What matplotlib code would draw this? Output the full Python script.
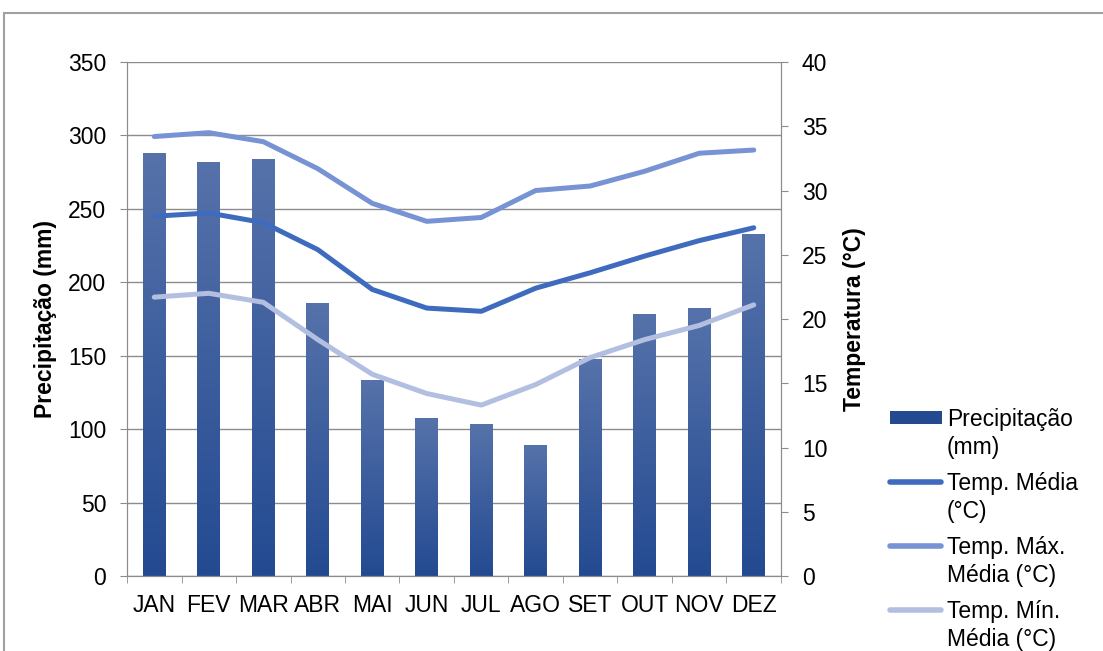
import numpy as np
import matplotlib
matplotlib.use("Agg")
import matplotlib.pyplot as plt
from matplotlib.patches import Rectangle
from matplotlib.lines import Line2D
from matplotlib.colors import LinearSegmentedColormap

plt.rcParams['font.family'] = ['Liberation Sans', 'DejaVu Sans']

meses = ["JAN", "FEV", "MAR", "ABR", "MAI", "JUN", "JUL", "AGO", "SET", "OUT", "NOV", "DEZ"]
precipitacao = [288, 282, 284, 186, 133.5, 107.5, 103.5, 89, 148, 178.5, 182.5, 233]
temp_media = [28.0, 28.25, 27.5, 25.4, 22.3, 20.85, 20.6, 22.4, 23.6, 24.9, 26.1, 27.1]
temp_max = [34.2, 34.5, 33.8, 31.7, 29.0, 27.6, 27.9, 30.0, 30.35, 31.5, 32.9, 33.15]
temp_min = [21.7, 22.0, 21.3, 18.4, 15.7, 14.2, 13.3, 14.9, 17.0, 18.4, 19.5, 21.1]

cor_barra_topo = "#5672aa"
cor_barra_base = "#234a91"
cor_media = "#3f6bbf"
cor_max = "#7893d3"
cor_min = "#b3bfe0"
fs = 16.5
W, H = 1103, 651

fig = plt.figure(figsize=(W / 100, H / 100), dpi=100)
ax = fig.add_axes([127 / W, 1 - 576 / H, 654 / W, 514 / H])
ax2 = ax.twinx()

x = np.arange(len(meses))
bars = ax.bar(x, precipitacao, width=0.42, color=cor_barra_base, zorder=2)

# gradiente vertical em cada barra (como no Excel)
cmap = LinearSegmentedColormap.from_list("grad", [cor_barra_base, cor_barra_topo])
grad = np.linspace(0, 1, 256).reshape(-1, 1)
for b in bars:
    x0, y0 = b.get_x(), b.get_y()
    w, h = b.get_width(), b.get_height()
    im = ax.imshow(grad, cmap=cmap, aspect="auto", origin="lower",
                   extent=[x0, x0 + w, y0, y0 + h], zorder=2)
    im.set_clip_path(b)

ax.set_xlim(-0.5, len(meses) - 0.5)
ax.set_ylim(0, 350)
ax.set_yticks(range(0, 351, 50))
ax.set_xticks(x)
ax.set_xticklabels(meses)
ax.set_xticks(np.arange(-0.5, len(meses), 1), minor=True)
ax.tick_params(axis="x", which="major", length=0, labelsize=fs, pad=13)
ax.tick_params(axis="x", which="minor", length=5, color="#8c8c8c")
ax.tick_params(axis="y", length=5, color="#8c8c8c", labelsize=fs, pad=10)
ax.yaxis.grid(True, color="#8c8c8c", linewidth=1)
ax.set_axisbelow(True)
ax.set_ylabel("Precipitação (mm)", fontsize=fs, fontweight="bold", labelpad=8)

ax2.plot(x, temp_media, color=cor_media, linewidth=3.6, solid_capstyle="round", zorder=3)
ax2.plot(x, temp_max, color=cor_max, linewidth=3.6, solid_capstyle="round", zorder=3)
ax2.plot(x, temp_min, color=cor_min, linewidth=3.6, solid_capstyle="round", zorder=3)
ax2.set_ylim(0, 40)
ax2.set_yticks(range(0, 41, 5))
ax2.tick_params(axis="y", length=5, color="#8c8c8c", labelsize=fs, pad=10)
ax2.set_ylabel("Temperatura (°C)", fontsize=fs, fontweight="bold", labelpad=11)

for a in (ax, ax2):
    a.spines["top"].set_visible(False)
    for s in ("left", "right", "bottom"):
        a.spines[s].set_color("#8c8c8c")
ax.patch.set_visible(False)

# legenda à direita, com o símbolo alinhado à primeira linha do texto (estilo Excel)
legenda = [
    ("bar", cor_barra_base, ["Precipitação", "(mm)"]),
    ("line", cor_media, ["Temp. Média", "(°C)"]),
    ("line", cor_max, ["Temp. Máx.", "Média (°C)"]),
    ("line", cor_min, ["Temp. Mín.", "Média (°C)"]),
]
for i, (tipo, cor, linhas) in enumerate(legenda):
    base = 426 + 64 * i
    yc = base - 8
    if tipo == "bar":
        fig.patches.append(Rectangle((890 / W, 1 - (yc + 6) / H), 52 / W, 13 / H,
                                     transform=fig.transFigure, facecolor=cor, edgecolor="none"))
    else:
        fig.add_artist(Line2D([890 / W, 941 / W], [1 - yc / H, 1 - yc / H], transform=fig.transFigure,
                              color=cor, linewidth=4, solid_capstyle="round"))
    for j, txt in enumerate(linhas):
        fig.text(947 / W, 1 - (base + 28 * j) / H, txt, fontsize=fs, va="baseline", ha="left")

# moldura do gráfico
fig.patches.append(Rectangle((4 / W, -0.1), 1.2, 1 - 13 / H + 0.1, transform=fig.transFigure,
                             fill=False, edgecolor="#a0a0a0", linewidth=1.5))

fig.savefig("out.png", dpi=100)
